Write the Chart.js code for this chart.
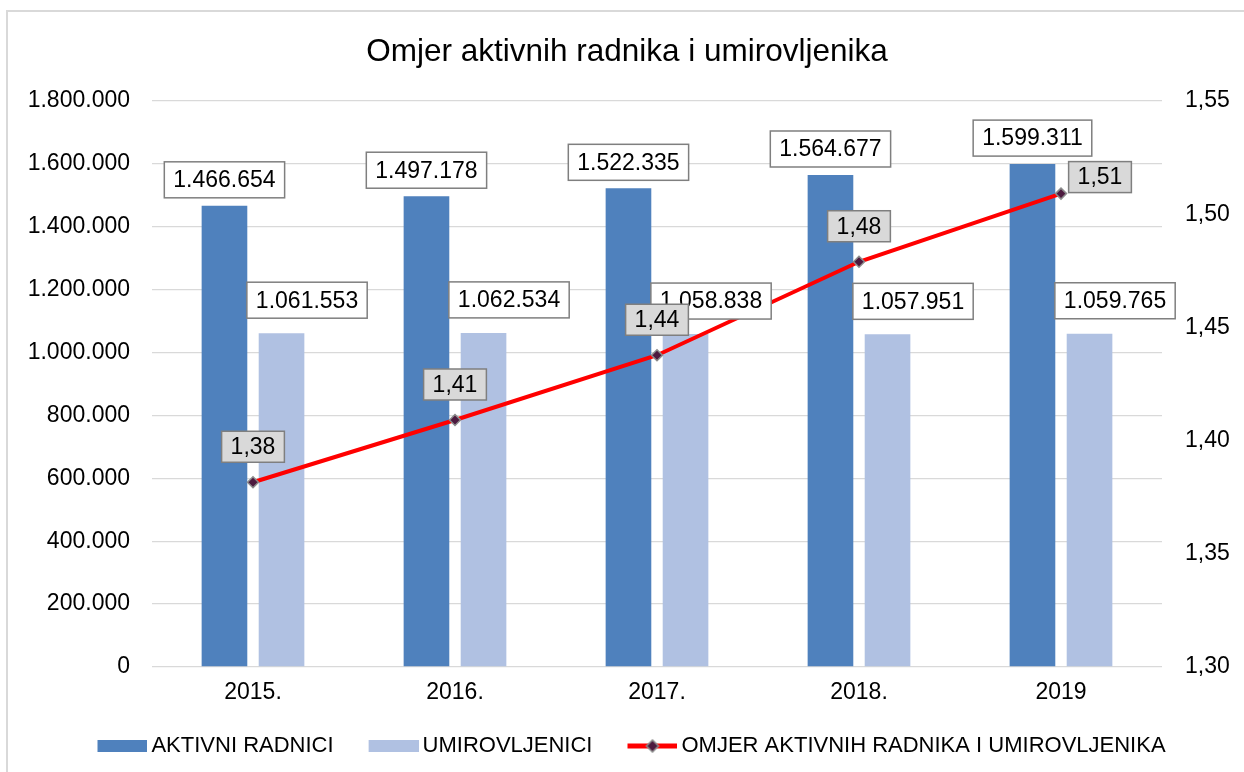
<!DOCTYPE html>
<html>
<head>
<meta charset="utf-8">
<script src="https://cdn.jsdelivr.net/npm/chart.js@4/dist/chart.umd.min.js"></script>
<style>
  html, body { margin: 0; padding: 0; background: #fff; overflow: hidden; }
  #wrap { position: relative; width: 1244px; height: 772px; }
</style>
</head>
<body>
<div id="wrap"><canvas id="c"></canvas></div>
<script>
const categories = ['2015.', '2016.', '2017.', '2018.', '2019'];
const aktivniRadnici = [1466654, 1497178, 1522335, 1564677, 1599311];
const umirovljenici = [1061553, 1062534, 1058838, 1057951, 1059765];
const omjer = [1.3816, 1.4091, 1.4377, 1.4790, 1.5091];
const seriesNames = ['AKTIVNI RADNICI', 'UMIROVLJENICI', 'OMJER AKTIVNIH RADNIKA I UMIROVLJENIKA'];
const chartTitle = 'Omjer aktivnih radnika i umirovljenika';

const FONT = '"Liberation Sans", Arial, sans-serif';
const DARK = '#4f81bd';
const LIGHT = '#b0c1e2';
const RED = '#ff0000';

function fmtThousands(n) {
  return Math.round(n).toString().replace(/\B(?=(\d{3})+(?!\d))/g, '.');
}
function fmtRatio(v) {
  return v.toFixed(2).replace('.', ',');
}

// legend swatches (with transparent lead-in space on the left)
const LEAD = 8;
function swatch(color) {
  const c = document.createElement('canvas');
  c.width = 50 + LEAD * 2; c.height = 12;
  const g = c.getContext('2d');
  g.fillStyle = color; g.fillRect(LEAD * 2, 0, 50, 12);
  return c;
}
function lineSwatch() {
  const c = document.createElement('canvas');
  c.width = 50 + LEAD * 2; c.height = 14;
  const g = c.getContext('2d');
  const o = LEAD * 2;
  g.strokeStyle = RED; g.lineWidth = 5;
  g.beginPath(); g.moveTo(o, 7); g.lineTo(o + 50, 7); g.stroke();
  g.fillStyle = '#4d1a3f'; g.strokeStyle = '#8c8c8c'; g.lineWidth = 1.5;
  g.beginPath(); g.moveTo(o + 25, 1); g.lineTo(o + 31, 7); g.lineTo(o + 25, 13); g.lineTo(o + 19, 7); g.closePath();
  g.fill(); g.stroke();
  return c;
}
const legendImgs = [swatch(DARK), swatch(LIGHT), lineSwatch()];

const bgPlugin = {
  id: 'bgBorder',
  beforeDraw(chart) {
    const ctx = chart.ctx;
    ctx.save();
    ctx.fillStyle = '#fff';
    ctx.fillRect(0, 0, chart.width, chart.height);
    ctx.strokeStyle = '#d9d9d9';
    ctx.lineWidth = 2;
    ctx.strokeRect(7, 11, chart.width + 50, chart.height + 50);
    ctx.restore();
  }
};

const boxLabelPlugin = {
  id: 'boxLabels',
  afterDatasetsDraw(chart, args, opts) {
    const ctx = chart.ctx;
    ctx.save();
    ctx.font = '23px ' + FONT;
    ctx.textAlign = 'center';
    ctx.textBaseline = 'middle';
    const drawBox = (cx, bottom, text, fill, h) => {
      const w = ctx.measureText(text).width + 18;
      const x = cx - w / 2, y = bottom - h;
      ctx.fillStyle = fill;
      ctx.fillRect(x, y, w, h);
      ctx.strokeStyle = '#7f7f7f';
      ctx.lineWidth = 1.5;
      ctx.strokeRect(x, y, w, h);
      ctx.fillStyle = '#000';
      ctx.fillText(text, cx, y + h / 2 + 1);
    };
    [0, 1].forEach(di => {
      const meta = chart.getDatasetMeta(di);
      const cfg = opts.bars[di];
      meta.data.forEach((el, i) => {
        const v = chart.data.datasets[di].data[i];
        drawBox(el.x + cfg.dx, el.y - cfg.gap, fmtThousands(v), '#fff', 36);
      });
    });
    const lm = chart.getDatasetMeta(2);
    lm.data.forEach((el, i) => {
      const v = chart.data.datasets[2].data[i];
      const sh = opts.lineShift[i] || opts.lineDefault;
      drawBox(el.x + sh[0], el.y + sh[1], fmtRatio(v), '#d9d9d9', 31);
    });
    ctx.restore();
  }
};

new Chart(document.getElementById('c'), {
  type: 'bar',
  data: {
    labels: categories,
    datasets: [
      {
        label: seriesNames[0], data: aktivniRadnici, backgroundColor: DARK,
        yAxisID: 'y', categoryPercentage: 0.565, barPercentage: 0.8, order: 1
      },
      {
        label: seriesNames[1], data: umirovljenici, backgroundColor: LIGHT,
        yAxisID: 'y', categoryPercentage: 0.565, barPercentage: 0.8, order: 1
      },
      {
        type: 'line', label: seriesNames[2], data: omjer, yAxisID: 'y1',
        borderColor: RED, borderWidth: 4, fill: false, tension: 0,
        pointStyle: 'rectRot', pointRadius: 5.5, pointBackgroundColor: '#4d1a3f',
        pointBorderColor: '#8c8c8c', pointBorderWidth: 1.5, order: -1
      }
    ]
  },
  options: {
    responsive: true,
    maintainAspectRatio: false,
    animation: false,
    events: [],
    layout: { padding: { left: 10, right: 0, top: 0, bottom: 5 } },
    scales: {
      x: {
        grid: { display: false, drawTicks: false },
        border: { display: false },
        ticks: { color: '#000', font: { family: FONT, size: 23 }, padding: 12, maxRotation: 0 },
        afterFit(s) { s.height = 42; }
      },
      y: {
        position: 'left',
        min: 0, max: 1800000,
        grid: { color: '#d9d9d9', lineWidth: 1.3, drawTicks: false },
        border: { display: false },
        ticks: {
          stepSize: 200000, color: '#000', font: { family: FONT, size: 23 }, padding: 22,
          callback: v => fmtThousands(v)
        },
        afterFit(s) { s.width = 142; }
      },
      y1: {
        position: 'right',
        min: 1.30, max: 1.55,
        grid: { display: false, drawTicks: false },
        border: { display: false },
        ticks: {
          stepSize: 0.05, color: '#000', font: { family: FONT, size: 23 }, padding: 23,
          callback: v => fmtRatio(v)
        },
        afterFit(s) { s.width = 82; }
      }
    },
    plugins: {
      title: {
        display: true, text: chartTitle, color: '#000',
        font: { family: FONT, size: 31.5, weight: 'normal' },
        padding: { top: 33, bottom: 30.2 }
      },
      legend: {
        display: true,
        position: 'bottom',
        labels: {
          usePointStyle: true,
          pointStyleWidth: 52,
          padding: 26,
          color: '#000',
          font: { family: FONT, size: 22 },
          generateLabels(chart) {
            return chart.data.datasets.map((ds, i) => ({
              text: ds.label,
              pointStyle: legendImgs[i],
              fillStyle: 'transparent',
              strokeStyle: 'transparent',
              lineWidth: 0,
              hidden: false,
              datasetIndex: i,
              fontColor: '#000'
            }));
          }
        }
      },
      tooltip: { enabled: false },
      boxLabels: {
        bars: [{ dx: 0, gap: 8 }, { dx: 25.5, gap: 15 }],
        lineDefault: [0, -20],
        lineShift: { 4: [39, -1] }
      }
    }
  },
  plugins: [bgPlugin, boxLabelPlugin]
});
</script>
</body>
</html>
